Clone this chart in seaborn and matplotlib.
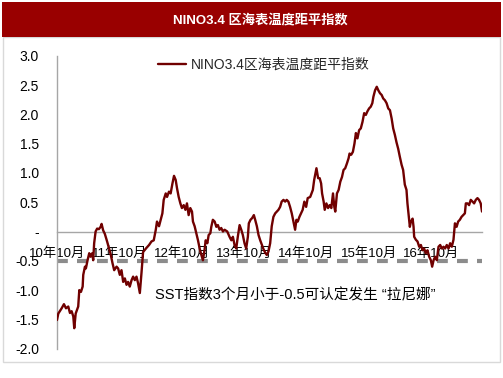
import matplotlib
matplotlib.use('Agg')
import matplotlib.pyplot as plt
from matplotlib.patches import Rectangle
import seaborn as sns
import numpy as np

# weekly NINO3.4 anomaly, weeks counted from 2010-10
weeks = [0, 1.1, 3.9, 5.8, 7.5, 9.4, 10.8, 12.2, 13.6, 14.4, 15.6, 17.7, 18.6, 20.0, 21.4, 21.9,
         23.3, 24.1, 25.5, 26.9, 28.0, 29.4, 30.2, 31.0, 32.2, 33.5, 34.9, 36.4, 37.2, 38.5, 39.9,
         41.8, 43.5, 44.9, 46.3, 47.7, 49.7, 51.0, 52.4, 53.8, 55.2, 56.6, 58.0, 59.3, 60.7, 62.2,
         63.5, 64.9, 66.3, 67.6, 69.1, 70.5, 71.8,
         74.6, 76.8, 78.8, 80.7, 82.4, 83.4, 85.1, 86.5, 87.9, 89.0, 90.7, 91.8, 93.4, 94.8, 96.3,
         97.6, 99.0, 100.1, 101.5, 102.9, 104.2, 105.7, 107.1, 108.4, 109.8, 111.2, 112.6, 113.4,
         114.8, 116.2, 117.6, 119.0, 120.4, 121.7, 123.1, 124.0, 125.4, 126.5, 127.9, 128.7, 130.0,
         131.5, 132.9, 134.2, 135.6, 137.0, 138.4, 139.8,
         142.0, 143.9, 145.4, 146.7, 148.1, 149.5, 150.8, 152.3, 153.7, 155.0, 156.4, 157.8, 159.2,
         160.0, 161.4, 162.8, 164.2, 165.3, 166.7, 168.1, 169.5, 170.8, 172.2, 173.6, 175.0, 176.4,
         177.8, 179.1, 180.5, 182.0, 183.3, 184.7, 186.1, 187.4, 188.9, 190.3, 191.6, 193.0, 194.4,
         195.8, 197.2, 198.6, 199.7, 200.8, 202.2, 203.6, 204.9, 206.3, 207.8, 209.1,
         211.2, 213.4, 214.5, 216.4, 217.8, 219.1, 220.3, 221.1, 222.4, 223.3, 224.7, 226.1, 227.4,
         228.8, 230.2, 231.3, 232.1, 233.5, 234.9, 236.3, 237.7, 239.0, 240.4, 241.8, 243.2, 244.0,
         245.4, 246.8, 248.1, 249.3, 250.6, 252.0, 253.4, 254.8, 256.2, 257.6, 258.9, 260.3, 261.7,
         263.0, 263.9, 265.3, 266.7, 268.0, 269.4, 270.8, 272.1, 273.5, 274.9, 276.3, 277.7, 279.1,
         280.4, 281.8, 283.2, 284.6, 285.9, 287.4, 288.7, 290.1, 291.5, 292.3, 293.5, 294.3, 295.2,
         296.6, 297.4, 297.9, 299.3, 300.7, 302.1, 303.5, 304.9, 306.2, 307.6, 309.0, 310.4, 311.8,
         312.9, 314.1, 315.4, 316.8, 318.2, 319.6, 321.0, 322.4, 323.7, 325.1, 326.6, 327.9, 329.3,
         330.7, 331.9, 333.3, 334.6, 336.0, 337.4, 338.8, 340.2, 341.0, 342.4, 343.7, 345.1, 346.6,
         347.9, 349.3, 350.7, 352.0, 353.4, 354.5]
nino34 = [-1.51, -1.40, -1.31, -1.24, -1.31, -1.28, -1.39, -1.36, -1.45, -1.65, -1.40, -1.28, -1.00,
          -1.03, -0.94, -0.74, -0.60, -0.63, -0.49, -0.37, -0.43, -0.37, -0.49, -0.20, 0.00, 0.05,
          0.04, 0.08, 0.13, 0.02, -0.04, -0.17, -0.30, -0.40, -0.54, -0.66, -0.60, -0.63, -0.74,
          -0.66, -0.86, -0.80, -0.91, -0.86, -0.94, -0.83, -0.77, -0.83, -0.77, -0.88, -1.05, -0.70,
          -0.35,
          -0.28, -0.23, -0.17, -0.15, 0.03, 0.17, 0.09, 0.20, 0.31, 0.54, 0.65, 0.59, 0.68, 0.65,
          0.82, 0.95, 0.88, 0.74, 0.59, 0.48, 0.40, 0.45, 0.37, 0.48, 0.28, 0.40, 0.34, 0.17, 0.09,
          -0.03, -0.15, -0.29, -0.40, -0.49, -0.31, -0.15, -0.20, -0.06, -0.03, 0.08, 0.20, 0.17,
          0.08, 0.11, 0.03, 0.06, 0.00, 0.03,
          0.00, -0.09, -0.15, -0.09, -0.23, -0.29, -0.09, 0.11, 0.03, -0.06, -0.20, -0.29, -0.09,
          0.14, 0.20, 0.23, 0.28, 0.20, 0.09, -0.06, -0.15, -0.22, -0.30, -0.36, -0.40, -0.34,
          -0.20, 0.09, 0.25, 0.31, 0.34, 0.37, 0.42, 0.51, 0.54, 0.51, 0.54, 0.51, 0.42, 0.31,
          0.17, 0.03, 0.20, 0.17, 0.25, 0.31, 0.37, 0.51, 0.42, 0.57,
          0.59, 0.71, 0.88, 1.08, 0.91, 0.91, 0.82, 0.65, 0.51, 0.37, 0.48, 0.40, 0.45, 0.40, 0.65,
          0.42, 0.34, 0.65, 0.71, 0.85, 0.93, 1.05, 1.08, 1.16, 1.25, 1.33, 1.31, 1.36, 1.50, 1.68,
          1.59, 1.73, 1.76, 1.87, 2.02, 1.99, 2.05, 2.10, 2.13, 2.19, 2.30, 2.41, 2.47, 2.41, 2.36,
          2.33, 2.27, 2.24, 2.19, 2.10, 2.07, 1.93, 1.76, 1.65, 1.52, 1.41, 1.28, 1.14, 1.05, 0.80,
          0.71, 0.48, 0.25, 0.08, 0.17, 0.22, 0.08, -0.09, -0.14, -0.17, -0.26, -0.23, -0.32, -0.29,
          -0.37, -0.32, -0.43, -0.49, -0.60, -0.49, -0.43, -0.49, -0.26, -0.23, -0.29, -0.26, -0.29,
          -0.23, -0.29, -0.20, -0.26, -0.14, 0.14, 0.08, 0.17, 0.20, 0.25, 0.28, 0.31, 0.48, 0.48,
          0.45, 0.54, 0.51, 0.48, 0.54, 0.57, 0.54, 0.48, 0.34]

tick_weeks = [0, 52, 104, 156, 208, 260, 312]
tick_labels = ['10年10月', '11年10月', '12年10月', '13年10月', '14年10月', '15年10月', '16年10月']
y_ticks = [3.0, 2.5, 2.0, 1.5, 1.0, 0.5, 0.0, -0.5, -1.0, -1.5, -2.0]
y_labels = ['3.0', '2.5', '2.0', '1.5', '1.0', '0.5', '-', '-0.5', '-1.0', '-1.5', '-2.0']
la_nina_level = -0.5

sns.set_style('white')
plt.rcParams['font.family'] = ['Liberation Sans', 'Noto Sans CJK SC']

fig = plt.figure(figsize=(5.03, 3.78), dpi=100)
ax = fig.add_axes([0.1133, 0.0775, 0.845, 0.7751])

# frame and title bar
fig.patches.append(Rectangle((0.006, 0.0423), 0.988, 0.86, transform=fig.transFigure,
                             facecolor='none', edgecolor='#d9d9d9', lw=1))
fig.patches.append(Rectangle((0.004, 0.902), 0.992, 0.093, transform=fig.transFigure,
                             facecolor='#990000', edgecolor='none'))
fig.text(0.517, 0.948, 'NINO3.4 区海表温度距平指数', color='white', fontsize=9.5,
         fontweight='bold', ha='center', va='center')

# la nina threshold
ax.axhline(la_nina_level, color='#8c8c8c', lw=3, ls=(0, (2.6, 2.2)), zorder=1)
sns.lineplot(x=weeks, y=nino34, ax=ax, color='#700000', lw=1.7, label='NINO3.4区海表温度距平指数',
             zorder=3)

ax.set_xlim(0, 354.5)
ax.set_ylim(-2.0, 3.0)
ax.set_xticks(tick_weeks)
ax.set_xticklabels(tick_labels)
ax.set_yticks(y_ticks)
ax.set_yticklabels(y_labels)

for s in ['top', 'right']:
    ax.spines[s].set_visible(False)
ax.spines['bottom'].set_position(('data', 0))
for s in ['left', 'bottom']:
    ax.spines[s].set_color('#a6a6a6')
    ax.spines[s].set_linewidth(1)
ax.tick_params(axis='x', direction='in', length=3, color='#a6a6a6', pad=11, labelsize=9.5,
               labelcolor='black')
ax.tick_params(axis='y', direction='in', length=3, color='#a6a6a6', pad=13, labelsize=10,
               labelcolor='black')
ax.set_xlabel('')
ax.set_ylabel('')

ax.legend(loc='center left', bbox_to_anchor=(0.2376, 0.968), frameon=False, fontsize=10,
          borderpad=0, borderaxespad=0, handlelength=2.0, handletextpad=0.35)

ax.text(0.2306, 0.183, 'SST指数3个月小于-0.5可认定发生 “拉尼娜”', transform=ax.transAxes,
        fontsize=10.5, va='center', ha='left', color='black')

fig.savefig('out.png', dpi=100)
